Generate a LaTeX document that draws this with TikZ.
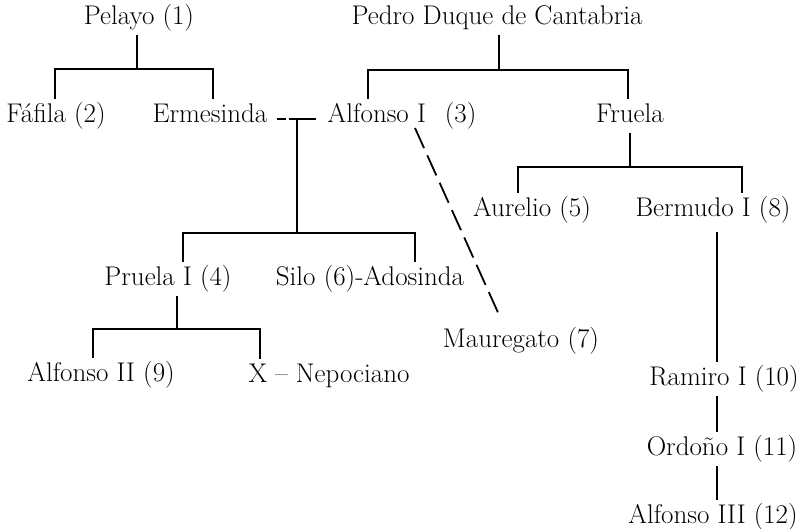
\documentclass[tikz,border=0pt]{standalone}
\begin{document}
\begin{tikzpicture}[x=1pt,y=-1pt,
  person/.style={font=\fontsize{27}{32}\selectfont, anchor=base, inner sep=0pt, outer ysep=4pt, outer xsep=0pt, text height=19pt, text depth=7pt},
  tree/.style={line width=2.4pt},
  marriage/.style={line width=2.4pt, dash pattern=on 9pt off 3pt on 40pt},
  dashline/.style={line width=1.8pt, dash pattern=on 22pt off 8pt}]
\useasboundingbox (0,0) rectangle (800,528);
% people (positions: centre x, baseline y)
\node[person] (pelayo) at (139,24) {Pelayo (1)};
\node[person] (pedro) at (497,24) {Pedro Duque de Cantabria};
\node[person] (fafila) at (56,122) {Fáfila (2)};
\node[person] (ermesinda) at (210,122) {Ermesinda};
\node[person] (alfonso1) at (402,122) {Alfonso I\hspace{0.7em}(3)};
\node[person] (fruela) at (630,122) {Fruela};
\node[person] (aurelio) at (532,216) {Aurelio (5)};
\node[person] (bermudo) at (713,216) {Bermudo I (8)};
\node[person] (pruela) at (168,285) {Pruela I (4)};
\node[person] (silo) at (370,285) {Silo (6)-Adosinda};
\node[person] (mauregato) at (521,347) {Mauregato (7)};
\node[person] (alfonso2) at (101,381) {Alfonso II (9)};
\node[person] (nepociano) at (329,382) {X -- Nepociano};
\node[person] (ramiro) at (724,385) {Ramiro I (10)};
\node[person] (ordono) at (722,455) {Ordoño I (11)};
\node[person] (alfonso3) at (713,523) {Alfonso III (12)};
% junction coordinates
\coordinate (b1l) at (55,69);  \coordinate (b1r) at (213,69);
\coordinate (b2l) at (368,70); \coordinate (b2r) at (628,70);
\coordinate (m) at (297,119);
\coordinate (b3l) at (183,233); \coordinate (b3r) at (415,233);
\coordinate (b4l) at (518,167); \coordinate (b4r) at (742,167);
\coordinate (b5l) at (93,329); \coordinate (b5r) at (260,329);
\coordinate (bv) at (717,0);
% Pelayo
\draw[tree] ([xshift=-2pt]pelayo.south) -- ([xshift=-2pt]pelayo.south |- b1l);
\draw[tree] (b1l |- fafila.north) -- (b1l) -- (b1r) -- (b1r |- ermesinda.north);
% Pedro
\draw[tree] ([xshift=2pt]pedro.south) -- ([xshift=2pt]pedro.south |- b2l);
\draw[tree] (b2l |- alfonso1.north) -- (b2l) -- (b2r) -- (b2r |- fruela.north);
% Ermesinda -- Alfonso I
\draw[marriage, shorten <=10pt, shorten >=12pt] (ermesinda.east |- m) -- (alfonso1.west |- m);
\draw[tree] (m) -- (m |- b3l);
\draw[tree] (b3l |- pruela.north) -- (b3l) -- (b3r) -- (b3r |- silo.north);
% Fruela
\draw[tree] (fruela.south) -- (fruela.south |- b4l);
\draw[tree] (b4l |- aurelio.north) -- (b4l) -- (b4r) -- (b4r |- bermudo.north);
% Alfonso I -- Mauregato
\draw[dashline] ([shift={(13,-5)}]alfonso1.south) -- ([shift={(-21,-7)}]mauregato.north);
% Pruela
\draw[tree] ([xshift=9pt]pruela.south) -- ([xshift=9pt]pruela.south |- b5l);
\draw[tree] (b5l |- alfonso2.north) -- (b5l) -- (b5r) -- (b5r |- nepociano.north);
% Bermudo line
\draw[tree, shorten <=5pt] (bv |- bermudo.south) -- (bv |- ramiro.north);
\draw[tree] (bv |- ramiro.south) -- (bv |- ordono.north);
\draw[tree] (bv |- ordono.south) -- (bv |- alfonso3.north);
\end{tikzpicture}
\end{document}
